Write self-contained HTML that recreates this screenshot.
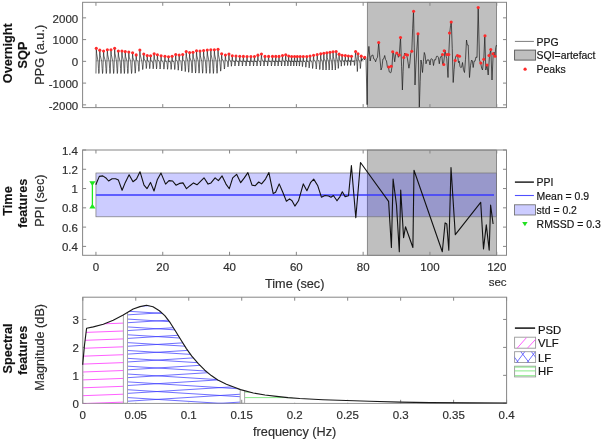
<!DOCTYPE html>
<html><head><meta charset="utf-8"><style>
html,body{margin:0;padding:0;background:#fff;overflow:hidden;}
svg{display:block;font-family:"Liberation Sans", sans-serif;will-change:transform;filter:blur(0.35px);}
</style></head><body>
<svg width="602" height="440" viewBox="0 0 602 440">
<rect width="602" height="440" fill="#fff"/>
<rect x="367.3" y="2.3" width="129.3" height="105.3" fill="#bfbfbf" stroke="#6a6a6a" stroke-width="0.7"/>
<line x1="96" y1="60.9" x2="364" y2="60.9" stroke="#9a9a9a" stroke-width="0.6"/>
<clipPath id="cTop"><rect x="82.6" y="2.3" width="423.9" height="105.3"/></clipPath>
<path d="M95.95 73.5 L96.3 48.36 L96.65 53.36 L98.06 61.5 L98.48 68.5 L98.83 73.5 L99.11 72 L99.81 50.15 L100.19 55.15 L101.69 61.5 L102.15 68.5 L102.52 73.5 L102.82 72 L103.58 50.94 L103.95 55.94 L105.46 61.5 L105.91 68.5 L106.28 73.5 L106.58 72 L107.34 49.82 L107.7 54.82 L109.16 61.5 L109.6 68.5 L109.97 73.5 L110.26 72 L110.99 49.8 L111.35 54.8 L112.82 61.5 L113.26 68.5 L113.62 73.5 L113.91 72 L114.65 48.3 L115.01 53.3 L116.49 61.5 L116.93 68.5 L117.3 73.5 L117.59 72 L118.33 51 L118.69 56 L120.14 61.5 L120.58 68.5 L120.94 73.5 L121.23 72 L121.96 51.01 L122.29 56.01 L123.61 61.5 L124 68.5 L124.33 73.5 L124.6 72 L125.25 51.59 L125.61 56.59 L127.03 61.5 L127.46 68.5 L127.81 73.5 L128.09 72 L128.8 52.07 L129.18 57.07 L130.7 61.5 L131.16 68.5 L131.54 73.5 L131.84 72 L132.6 52.8 L132.96 57.8 L134.4 61.5 L134.83 68.2 L135.19 73.2 L135.48 71.7 L136.2 54.92 L136.57 59.92 L138.03 61.5 L138.47 66.4 L138.84 71.4 L139.13 69.9 L139.87 50 L140.26 55 L141.82 61.5 L142.29 64.57 L142.68 69.57 L143 68.07 L143.78 53.94 L144.13 58.94 L145.52 61.5 L145.94 63.56 L146.29 68.56 L146.57 67.06 L147.26 55.62 L147.6 60.62 L148.94 61.5 L149.34 63.68 L149.68 68.68 L149.94 67.18 L150.61 55.8 L150.97 60.8 L152.39 61.5 L152.81 63.79 L153.17 68.79 L153.45 67.29 L154.16 53.84 L154.48 58.84 L155.79 61.5 L156.19 63.91 L156.51 68.91 L156.78 67.41 L157.43 54.79 L157.8 59.79 L159.26 61.5 L159.7 64.01 L160.07 69.01 L160.36 67.51 L161.09 55.7 L161.48 60.7 L163.02 61.5 L163.49 64.14 L163.88 69.14 L164.19 67.64 L164.96 56.28 L165.31 61.28 L166.73 61.5 L167.16 64.27 L167.51 69.27 L167.8 67.77 L168.51 56.69 L168.87 61.69 L170.31 61.5 L170.74 64.38 L171.1 69.38 L171.39 67.88 L172.1 56.32 L172.47 61.32 L173.91 61.5 L174.34 64.52 L174.7 69.52 L174.99 68.02 L175.71 54.55 L176.06 59.55 L177.44 61.5 L177.86 65.22 L178.21 70.22 L178.48 68.72 L179.18 54.99 L179.53 59.99 L180.93 61.5 L181.36 65.9 L181.71 70.9 L181.99 69.4 L182.69 54.47 L183.04 59.47 L184.46 61.5 L184.88 66.58 L185.24 71.58 L185.52 70.08 L186.23 51.61 L186.56 56.61 L187.9 61.5 L188.3 67.27 L188.64 72.27 L188.91 70.77 L189.58 52.59 L189.92 57.59 L191.29 61.5 L191.7 67.92 L192.04 72.92 L192.32 71.42 L193 52.2 L193.35 57.2 L194.76 61.5 L195.19 68.06 L195.54 73.06 L195.82 71.56 L196.52 50.72 L196.87 55.72 L198.26 61.5 L198.68 68.14 L199.03 73.14 L199.31 71.64 L200 50.93 L200.36 55.93 L201.79 61.5 L202.22 68.21 L202.58 73.21 L202.86 71.71 L203.58 50.56 L203.95 55.56 L205.43 61.5 L205.87 68.28 L206.24 73.28 L206.54 71.78 L207.28 50.02 L207.63 55.02 L209.05 61.5 L209.47 68.36 L209.82 73.36 L210.11 71.86 L210.82 49.81 L211.17 54.81 L212.58 61.5 L213.01 68.43 L213.36 73.43 L213.64 71.93 L214.35 49.8 L214.72 54.8 L216.19 61.5 L216.63 68.3 L217 73.3 L217.29 71.8 L218.03 49.33 L218.39 54.33 L219.84 61.5 L220.28 66.15 L220.64 71.15 L220.93 69.65 L221.66 53.71 L222.03 58.71 L223.54 61.5 L223.99 64.03 L224.36 69.03 L224.66 67.53 L225.41 55.06 L225.77 60.06 L227.18 61.5 L227.61 61.84 L227.96 66.84 L228.24 65.34 L228.95 54.08 L229.29 59.08 L230.63 61.5 L231.03 61.25 L231.37 66.25 L231.63 64.75 L232.3 55.72 L232.67 60.72 L234.14 61.5 L234.58 61 L234.94 66 L235.24 64.5 L235.97 55.94 L236.35 60.94 L237.88 61.5 L238.33 61 L238.72 66 L239.02 64.5 L239.78 56.18 L240.14 61.18 L241.59 61.5 L242.02 61 L242.38 66 L242.67 64.5 L243.39 56.4 L243.76 61.4 L245.23 61.5 L245.67 61 L246.03 66 L246.33 64.5 L247.06 56.5 L247.44 61.5 L248.98 61.5 L249.45 61 L249.83 66 L250.14 64.5 L250.91 56.5 L251.27 61.5 L252.7 61.5 L253.13 61 L253.48 66 L253.77 64.5 L254.48 56.5 L254.83 61.5 L256.2 61.5 L256.62 61 L256.96 66 L257.24 64.5 L257.92 55.14 L258.28 60.14 L259.69 61.5 L260.12 61 L260.47 66 L260.76 64.5 L261.46 54.01 L261.81 59.01 L263.22 61.5 L263.64 61 L263.99 66 L264.27 64.5 L264.97 56.38 L265.33 61.38 L266.79 61.5 L267.23 61 L267.59 66 L267.88 64.5 L268.61 56.4 L269 61.4 L270.55 61.5 L271.02 61 L271.4 66 L271.71 64.5 L272.49 56.4 L272.82 61.4 L274.13 61.5 L274.52 61 L274.85 66 L275.12 64.5 L275.77 56.4 L276.1 61.4 L277.39 61.5 L277.77 61 L278.09 66 L278.35 64.5 L279 56.4 L279.35 61.4 L280.74 61.5 L281.16 61 L281.51 66 L281.79 64.5 L282.48 55.46 L282.81 60.46 L284.1 61.5 L284.49 61 L284.81 66 L285.07 64.5 L285.72 54.79 L286.01 59.79 L287.2 61.5 L287.55 61 L287.85 66 L288.08 64.5 L288.68 55.97 L288.97 60.97 L290.16 61.5 L290.51 61 L290.81 66 L291.04 64.5 L291.63 56.5 L291.93 61.5 L293.1 61.5 L293.45 61 L293.74 66 L293.97 64.5 L294.56 56.5 L294.84 61.5 L295.94 61.5 L296.27 61 L296.54 66 L296.76 64.5 L297.31 56.5 L297.6 61.5 L298.74 61.5 L299.08 61.06 L299.37 66.06 L299.6 64.56 L300.17 56.5 L300.48 61.5 L301.73 61.5 L302.1 61.61 L302.42 66.61 L302.66 65.11 L303.29 56.5 L303.64 61.5 L305.04 61.5 L305.46 62.21 L305.81 67.21 L306.09 65.71 L306.79 56.5 L307.12 61.5 L308.43 61.5 L308.82 62.88 L309.15 67.88 L309.41 66.38 L310.06 55.93 L310.41 60.93 L311.82 61.5 L312.24 63.51 L312.59 68.51 L312.87 67.01 L313.57 55.27 L313.94 60.27 L315.4 61.5 L315.84 64.04 L316.21 69.04 L316.5 67.54 L317.23 54.55 L317.58 59.55 L318.97 61.5 L319.38 64.59 L319.73 69.59 L320.01 68.09 L320.7 53.86 L321.01 58.86 L322.26 61.5 L322.63 65 L322.95 70 L323.2 68.5 L323.82 53.24 L324.13 58.24 L325.36 61.5 L325.73 65 L326.04 70 L326.28 68.5 L326.9 52.71 L327.21 57.71 L328.44 61.5 L328.82 65 L329.12 70 L329.37 68.5 L329.99 52.23 L330.3 57.23 L331.52 61.5 L331.89 65 L332.19 70 L332.44 68.5 L333.05 51.76 L333.36 56.76 L334.59 61.5 L334.96 65 L335.27 70 L335.52 68.5 L336.14 51.43 L336.43 56.43 L337.62 61.5 L337.97 63.4 L338.27 68.4 L338.51 66.9 L339.1 54.17 L339.4 59.17 L340.61 61.5 L340.97 61.18 L341.27 66.18 L341.51 64.68 L342.12 55.24 L342.44 60.24 L343.72 61.5 L344.11 60.5 L344.43 65.5 L344.69 64 L345.33 55.62 L345.64 60.62 L346.86 61.5 L347.23 60.5 L347.54 65.5 L347.78 64 L348.39 55.97 L348.7 60.97 L349.94 61.5 L350.31 60.5 L350.62 65.5 L350.86 64 L351.48 56.32 L351.89 61.32 L353.53 61.5 L354.03 60.5 L354.44 65.5 L354.76 64 L355.58 51.49 L355.83 56.49 L356.79 61.5 L357.08 66.53 L357.32 71.53 L357.52 70.03 L358 53.81 L358.32 58.81 L359.61 61.5 L360 63.5 L360.32 68.5 L360.58 67 L361.22 56.16 L361.64 61.16" fill="none" stroke="#1a1a1a" stroke-width="0.65" stroke-linejoin="round" clip-path="url(#cTop)"/>
<path d="M361.64 61.16 L362 59 L362.9 59.52 L363.8 57.3 L364.53 59.97 L365.27 56.75 L366 59 L367.1 104.7 L367.8 57.3 L368.9 46.4 L370.2 61 L371.1 56 L372 55.5 L372.9 54.95 L373.8 59 L374.7 59.44 L375.6 61.8 L376.55 58.72 L377.5 57.3 L378.7 42.7 L379.8 57.3 L381 70 L381.95 67.31 L382.9 59 L383.8 58.67 L384.7 55.5 L385.6 59.61 L386.5 61 L387.45 67.34 L388.4 67.3 L389.3 71.93 L390.2 72.7 L391.1 72.36 L392 66.4 L392.9 51.8 L393.8 54.86 L394.7 61.8 L395.6 54.92 L396.5 52.7 L397.45 53.84 L398.4 57.3 L399.3 54.5 L400.5 37.3 L401.6 66.4 L402.4 90 L403.1 71.33 L403.8 57.3 L404.7 53.02 L405.6 54.5 L406.55 54.69 L407.5 59 L408.9 68.2 L409.8 63.48 L410.7 53.6 L411.8 51.2 L412.65 28.79 L413.5 11.2 L414.25 47.15 L415 85 L415.9 64.88 L416.8 50 L418 33.8 L419.3 108 L420.15 81.78 L421 60 L421.75 64.73 L422.5 72.5 L423.4 61.63 L424.3 52.5 L425.15 55.27 L426 63.8 L427 59.97 L428 60 L429 59.97 L430 65 L430.9 58.99 L431.8 58.8 L432.65 59.64 L433.5 65.5 L434.5 59.74 L435.5 60 L436.5 56.35 L437.5 56.2 L438.4 57.28 L439.3 63.8 L440.15 58.13 L441 56.2 L441.83 55.69 L442.67 64.18 L443.5 63.8 L444.25 57.93 L445 50 L445.9 55.53 L446.8 58.8 L448 77.5 L448.8 53.8 L449.8 32.5 L450.55 25.53 L451.3 21.2 L452.25 48.73 L453.2 82.5 L454.1 69.4 L455 60 L456 55.7 L457 56 L457.76 56.78 L458.52 62.62 L459.28 61.17 L460.04 66.84 L460.8 67.5 L461.65 67.2 L462.5 62.5 L463.5 69.7 L464.5 72.5 L465.5 59.22 L466.5 40 L467.35 44.94 L468.2 45 L469.5 77.5 L470.5 65.72 L471.5 60 L472.35 60.89 L473.2 67.5 L474.1 61.17 L475 61.2 L476 56.94 L477 57.5 L478.2 7.5 L479.5 60 L480.8 63.8 L481.65 68.09 L482.5 70 L483.8 58.8 L484.8 35.8 L485.8 70 L487 65 L488.2 75 L489.5 55.5 L490.8 49.5 L492 80 L493.2 53.8 L494.1 52.13 L495 56.2 L495.75 47.48 L496.5 45" fill="none" stroke="#1a1a1a" stroke-width="0.7" stroke-linejoin="round" clip-path="url(#cTop)"/>
<g fill="#ff2a2a"><circle cx="96.3" cy="48.36" r="1.55"/><circle cx="99.81" cy="50.15" r="1.55"/><circle cx="103.58" cy="50.94" r="1.55"/><circle cx="107.34" cy="49.82" r="1.55"/><circle cx="110.99" cy="49.8" r="1.55"/><circle cx="114.65" cy="48.3" r="1.55"/><circle cx="118.33" cy="51" r="1.55"/><circle cx="121.96" cy="51.01" r="1.55"/><circle cx="125.25" cy="51.59" r="1.55"/><circle cx="128.8" cy="52.07" r="1.55"/><circle cx="132.6" cy="52.8" r="1.55"/><circle cx="136.2" cy="54.92" r="1.55"/><circle cx="139.87" cy="50" r="1.55"/><circle cx="143.78" cy="53.94" r="1.55"/><circle cx="147.26" cy="55.62" r="1.55"/><circle cx="150.61" cy="55.8" r="1.55"/><circle cx="154.16" cy="53.84" r="1.55"/><circle cx="157.43" cy="54.79" r="1.55"/><circle cx="161.09" cy="55.7" r="1.55"/><circle cx="164.96" cy="56.28" r="1.55"/><circle cx="168.51" cy="56.69" r="1.55"/><circle cx="172.1" cy="56.32" r="1.55"/><circle cx="175.71" cy="54.55" r="1.55"/><circle cx="179.18" cy="54.99" r="1.55"/><circle cx="182.69" cy="54.47" r="1.55"/><circle cx="186.23" cy="51.61" r="1.55"/><circle cx="189.58" cy="52.59" r="1.55"/><circle cx="193" cy="52.2" r="1.55"/><circle cx="196.52" cy="50.72" r="1.55"/><circle cx="200" cy="50.93" r="1.55"/><circle cx="203.58" cy="50.56" r="1.55"/><circle cx="207.28" cy="50.02" r="1.55"/><circle cx="210.82" cy="49.81" r="1.55"/><circle cx="214.35" cy="49.8" r="1.55"/><circle cx="218.03" cy="49.33" r="1.55"/><circle cx="221.66" cy="53.71" r="1.55"/><circle cx="225.41" cy="55.06" r="1.55"/><circle cx="228.95" cy="54.08" r="1.55"/><circle cx="232.3" cy="55.72" r="1.55"/><circle cx="235.97" cy="55.94" r="1.55"/><circle cx="239.78" cy="56.18" r="1.55"/><circle cx="243.39" cy="56.4" r="1.55"/><circle cx="247.06" cy="56.5" r="1.55"/><circle cx="250.91" cy="56.5" r="1.55"/><circle cx="254.48" cy="56.5" r="1.55"/><circle cx="257.92" cy="55.14" r="1.55"/><circle cx="261.46" cy="54.01" r="1.55"/><circle cx="264.97" cy="56.38" r="1.55"/><circle cx="268.61" cy="56.4" r="1.55"/><circle cx="272.49" cy="56.4" r="1.55"/><circle cx="275.77" cy="56.4" r="1.55"/><circle cx="279" cy="56.4" r="1.55"/><circle cx="282.48" cy="55.46" r="1.55"/><circle cx="285.72" cy="54.79" r="1.55"/><circle cx="288.68" cy="55.97" r="1.55"/><circle cx="291.63" cy="56.5" r="1.55"/><circle cx="294.56" cy="56.5" r="1.55"/><circle cx="297.31" cy="56.5" r="1.55"/><circle cx="300.17" cy="56.5" r="1.55"/><circle cx="303.29" cy="56.5" r="1.55"/><circle cx="306.79" cy="56.5" r="1.55"/><circle cx="310.06" cy="55.93" r="1.55"/><circle cx="313.57" cy="55.27" r="1.55"/><circle cx="317.23" cy="54.55" r="1.55"/><circle cx="320.7" cy="53.86" r="1.55"/><circle cx="323.82" cy="53.24" r="1.55"/><circle cx="326.9" cy="52.71" r="1.55"/><circle cx="329.99" cy="52.23" r="1.55"/><circle cx="333.05" cy="51.76" r="1.55"/><circle cx="336.14" cy="51.43" r="1.55"/><circle cx="339.1" cy="54.17" r="1.55"/><circle cx="342.12" cy="55.24" r="1.55"/><circle cx="345.33" cy="55.62" r="1.55"/><circle cx="348.39" cy="55.97" r="1.55"/><circle cx="351.48" cy="56.32" r="1.55"/><circle cx="355.58" cy="51.49" r="1.55"/><circle cx="358" cy="53.81" r="1.55"/><circle cx="361.22" cy="56.16" r="1.55"/><circle cx="364.7" cy="57.3" r="1.55"/><circle cx="378.7" cy="42.5" r="1.55"/><circle cx="388.8" cy="67" r="1.55"/><circle cx="391.2" cy="66.2" r="1.55"/><circle cx="392.7" cy="51.8" r="1.55"/><circle cx="396.8" cy="53" r="1.55"/><circle cx="399.3" cy="55" r="1.55"/><circle cx="400.5" cy="37.5" r="1.55"/><circle cx="403.8" cy="57.5" r="1.55"/><circle cx="405.8" cy="54.5" r="1.55"/><circle cx="407.5" cy="55" r="1.55"/><circle cx="411.8" cy="51.2" r="1.55"/><circle cx="413.6" cy="11.2" r="1.55"/><circle cx="418" cy="33.8" r="1.55"/><circle cx="442.5" cy="54.5" r="1.55"/><circle cx="444.2" cy="50.8" r="1.55"/><circle cx="443.8" cy="64.5" r="1.55"/><circle cx="447" cy="54.5" r="1.55"/><circle cx="448.8" cy="54.5" r="1.55"/><circle cx="449.5" cy="33" r="1.55"/><circle cx="451.2" cy="22" r="1.55"/><circle cx="455.2" cy="60.5" r="1.55"/><circle cx="457.5" cy="55.5" r="1.55"/><circle cx="459.5" cy="56.2" r="1.55"/><circle cx="478.2" cy="7.5" r="1.55"/><circle cx="480.8" cy="63" r="1.55"/><circle cx="483.8" cy="59.2" r="1.55"/><circle cx="485" cy="35.8" r="1.55"/><circle cx="487" cy="65" r="1.55"/><circle cx="489" cy="55.5" r="1.55"/><circle cx="490.8" cy="49.5" r="1.55"/><circle cx="493" cy="53.8" r="1.55"/><circle cx="495" cy="56.2" r="1.55"/></g>
<rect x="82.6" y="2.3" width="423.9" height="105.3" fill="none" stroke="#868686" stroke-width="1"/>
<path d="M95.95 107.6V104.1M95.95 2.3V5.8M162.75 107.6V104.1M162.75 2.3V5.8M229.55 107.6V104.1M229.55 2.3V5.8M296.35 107.6V104.1M296.35 2.3V5.8M363.15 107.6V104.1M363.15 2.3V5.8M429.95 107.6V104.1M429.95 2.3V5.8M496.75 107.6V104.1M496.75 2.3V5.8" stroke="#868686" stroke-width="1" fill="none"/>
<path d="M82.6 104.85H86.1M506.5 104.85H503M82.6 83.1H86.1M506.5 83.1H503M82.6 61.35H86.1M506.5 61.35H503M82.6 39.6H86.1M506.5 39.6H503M82.6 17.85H86.1M506.5 17.85H503" stroke="#868686" stroke-width="1" fill="none"/>
<text x="78.2" y="109.6" font-size="11.5" text-anchor="end" font-weight="normal" fill="#2e2e2e" stroke="#2e2e2e" stroke-width="0.18">-2000</text>
<text x="78.2" y="87.85" font-size="11.5" text-anchor="end" font-weight="normal" fill="#2e2e2e" stroke="#2e2e2e" stroke-width="0.18">-1000</text>
<text x="78.2" y="66.1" font-size="11.5" text-anchor="end" font-weight="normal" fill="#2e2e2e" stroke="#2e2e2e" stroke-width="0.18">0</text>
<text x="78.2" y="44.35" font-size="11.5" text-anchor="end" font-weight="normal" fill="#2e2e2e" stroke="#2e2e2e" stroke-width="0.18">1000</text>
<text x="78.2" y="22.6" font-size="11.5" text-anchor="end" font-weight="normal" fill="#2e2e2e" stroke="#2e2e2e" stroke-width="0.18">2000</text>
<rect x="367.3" y="150" width="129.3" height="105.3" fill="#bfbfbf" stroke="#6a6a6a" stroke-width="0.7"/>
<rect x="95.95" y="173.0" width="400.65" height="43.8" fill="#0000ff" fill-opacity="0.2" stroke="#777" stroke-width="0.7"/>
<line x1="95.95" y1="195" x2="494" y2="195" stroke="#3a3aff" stroke-width="1.4"/>
<path d="M95.8 184.8 L99.3 176.4 L102.8 175.9 L106.3 178.3 L108.6 181 L112.1 178.7 L115.6 178.7 L118.4 180.1 L122.1 190.3 L125.3 182.4 L129.1 174.8 L133 181.7 L136.5 179 L140 171.7 L144 185.2 L147 188.7 L150.5 182.4 L154 191 L157.4 179.4 L161 173.1 L165.6 184.1 L169 180.6 L172.6 181 L176 185.2 L179.5 183.4 L183 182.9 L186.5 188.7 L190 185.7 L193.5 182.9 L197 184.8 L204 177.8 L208.1 184.1 L211 182.9 L215.1 177.8 L218.4 180.6 L222.1 175.9 L226 184.1 L229.3 188.7 L232.7 177.9 L236.6 174.3 L240.7 182.7 L244.3 177.9 L247.9 172.6 L252 185.1 L255.1 185.8 L258.7 182 L261.6 183.9 L265.5 179.1 L268.9 172.6 L273.2 193.6 L275.6 192.3 L279.2 183.9 L282.8 192.3 L286.4 201.3 L289.6 198.9 L292 200.8 L294.9 206.1 L298.5 200.8 L303.3 183.9 L306.9 190.7 L310.5 182.7 L313.7 179.1 L317.8 185.8 L321.4 197.2 L325 195.5 L328.6 196 L331 197.2 L333.4 195.5 L337 200.8 L340 196.6 L342.3 191.8 L345.1 196.6 L348.5 195.8 L351.4 165.6 L355.8 217.8 L360.5 162.5 L388.6 201.4 L391.4 247.5 L393.1 179.1 L396.5 205.1 L399.3 251.7 L400.7 190.1 L403.6 237.6 L405.5 226.8 L412.9 247.5 L414 170.3 L442.3 251.7 L445.1 222.9 L446.8 224 L448.8 250.3 L451 167.5 L455.3 234.7 L480.7 202.3 L483.5 248.9 L486.3 224.9 L489.2 250.3 L490.6 205.1 L493.1 224" fill="none" stroke="#111" stroke-width="1.1" stroke-linejoin="round"/>
<line x1="92.4" y1="183" x2="92.4" y2="207" stroke="#1ee81e" stroke-width="1.3"/>
<path d="M89.3 181.2H95.5L92.4 186Z M89.3 208.6H95.5L92.4 203.8Z" fill="#1ee81e"/>
<rect x="82.6" y="150" width="423.9" height="105.3" fill="none" stroke="#868686" stroke-width="1"/>
<path d="M95.95 255.3V251.8M95.95 150V153.5M162.75 255.3V251.8M162.75 150V153.5M229.55 255.3V251.8M229.55 150V153.5M296.35 255.3V251.8M296.35 150V153.5M363.15 255.3V251.8M363.15 150V153.5M429.95 255.3V251.8M429.95 150V153.5M496.75 255.3V251.8M496.75 150V153.5" stroke="#868686" stroke-width="1" fill="none"/>
<path d="M82.6 246.4H86.1M506.5 246.4H503M82.6 227.12H86.1M506.5 227.12H503M82.6 207.84H86.1M506.5 207.84H503M82.6 188.56H86.1M506.5 188.56H503M82.6 169.28H86.1M506.5 169.28H503M82.6 150H86.1M506.5 150H503" stroke="#868686" stroke-width="1" fill="none"/>
<text x="77.9" y="154.6" font-size="11.5" text-anchor="end" font-weight="normal" fill="#2e2e2e" stroke="#2e2e2e" stroke-width="0.18">1.4</text>
<text x="77.9" y="173.88" font-size="11.5" text-anchor="end" font-weight="normal" fill="#2e2e2e" stroke="#2e2e2e" stroke-width="0.18">1.2</text>
<text x="77.9" y="193.16" font-size="11.5" text-anchor="end" font-weight="normal" fill="#2e2e2e" stroke="#2e2e2e" stroke-width="0.18">1</text>
<text x="77.9" y="212.44" font-size="11.5" text-anchor="end" font-weight="normal" fill="#2e2e2e" stroke="#2e2e2e" stroke-width="0.18">0.8</text>
<text x="77.9" y="231.72" font-size="11.5" text-anchor="end" font-weight="normal" fill="#2e2e2e" stroke="#2e2e2e" stroke-width="0.18">0.6</text>
<text x="77.9" y="251" font-size="11.5" text-anchor="end" font-weight="normal" fill="#2e2e2e" stroke="#2e2e2e" stroke-width="0.18">0.4</text>
<text x="95.95" y="271.3" font-size="11.5" text-anchor="middle" font-weight="normal" fill="#2e2e2e" stroke="#2e2e2e" stroke-width="0.18">0</text>
<text x="162.75" y="271.3" font-size="11.5" text-anchor="middle" font-weight="normal" fill="#2e2e2e" stroke="#2e2e2e" stroke-width="0.18">20</text>
<text x="229.55" y="271.3" font-size="11.5" text-anchor="middle" font-weight="normal" fill="#2e2e2e" stroke="#2e2e2e" stroke-width="0.18">40</text>
<text x="296.35" y="271.3" font-size="11.5" text-anchor="middle" font-weight="normal" fill="#2e2e2e" stroke="#2e2e2e" stroke-width="0.18">60</text>
<text x="363.15" y="271.3" font-size="11.5" text-anchor="middle" font-weight="normal" fill="#2e2e2e" stroke="#2e2e2e" stroke-width="0.18">80</text>
<text x="429.95" y="271.3" font-size="11.5" text-anchor="middle" font-weight="normal" fill="#2e2e2e" stroke="#2e2e2e" stroke-width="0.18">100</text>
<text x="496.75" y="271.3" font-size="11.5" text-anchor="middle" font-weight="normal" fill="#2e2e2e" stroke="#2e2e2e" stroke-width="0.18">120</text>
<text x="506.6" y="286.3" font-size="11.5" text-anchor="end" font-weight="normal" fill="#2e2e2e" stroke="#2e2e2e" stroke-width="0.18">sec</text>
<text x="294.7" y="287.9" font-size="12.7" text-anchor="middle" font-weight="normal" fill="#2e2e2e" stroke="#2e2e2e" stroke-width="0.18">Time (sec)</text>
<clipPath id="cV"><path d="M82.8 403.3 L82.8 363.7 L84.5 345 L86.6 328.2 L93.3 326.9 L103.3 324.2 L113.2 320.2 L123.2 314.9 L123.4 314.78 L123.4 403.3Z"/></clipPath>
<clipPath id="cL"><path d="M127.5 403.3 L127.5 312.36 L133.2 309 L140 306.6 L146.5 305.3 L153 306.8 L159.4 310.8 L164.8 315.6 L170.2 322.7 L175.6 331.3 L181 340 L186.4 348.6 L191.8 356.2 L198.3 363.7 L204.8 370.2 L211.3 375.6 L217.8 379.9 L226.4 384.2 L235 387.5 L240.2 389.49 L240.2 403.3Z"/></clipPath>
<clipPath id="cH"><path d="M244.6 403.3 L244.6 390.69 L253.3 393 L265 395 L276.5 396.4 L288 397.6 L299.8 398.5 L323 399.7 L346.3 400.5 L369.5 401.3 L400 402.1 L430 402.6 L470 402.9 L506.6 403 L506.6 403.3Z"/></clipPath>
<rect x="82.8" y="297.2" width="423.8" height="106.1" fill="none" stroke="#868686" stroke-width="1"/>
<path d="M82.8 403.3V399.8M82.8 297.2V300.7M135.78 403.3V399.8M135.78 297.2V300.7M188.75 403.3V399.8M188.75 297.2V300.7M241.72 403.3V399.8M241.72 297.2V300.7M294.7 403.3V399.8M294.7 297.2V300.7M347.68 403.3V399.8M347.68 297.2V300.7M400.65 403.3V399.8M400.65 297.2V300.7M453.62 403.3V399.8M453.62 297.2V300.7M506.6 403.3V399.8M506.6 297.2V300.7" stroke="#868686" stroke-width="1" fill="none"/>
<path d="M82.8 403.3H86.3M506.6 403.3H503.1M82.8 375.35H86.3M506.6 375.35H503.1M82.8 347.4H86.3M506.6 347.4H503.1M82.8 319.45H86.3M506.6 319.45H503.1" stroke="#868686" stroke-width="1" fill="none"/>
<path d="M83.35 402.75 L83.35 357.65 L84.5 345 L86.6 328.2 L93.3 326.9 L103.3 324.2 L113.2 320.2 L123.2 314.9 L123.4 314.78 L123.4 402.75Z M127.5 402.75 L127.5 312.36 L133.2 309 L140 306.6 L146.5 305.3 L153 306.8 L159.4 310.8 L164.8 315.6 L170.2 322.7 L175.6 331.3 L181 340 L186.4 348.6 L191.8 356.2 L198.3 363.7 L204.8 370.2 L211.3 375.6 L217.8 379.9 L226.4 384.2 L235 387.5 L240.2 389.49 L240.2 402.75Z M244.6 402.75 L244.6 390.69 L253.3 393 L265 395 L276.5 396.4 L288 397.6 L299.8 398.5 L323 399.7 L346.3 400.5 L369.5 401.3 L400 402.1 L430 402.6 L470 402.9 L506.05 403 L506.05 402.75Z" fill="#fff"/>
<path d="M82.8 419.4L123.4 417.9M82.8 411.5L123.4 410M82.8 403.6L123.4 402.1M82.8 395.7L123.4 394.2M82.8 387.8L123.4 386.3M82.8 379.9L123.4 378.4M82.8 372L123.4 370.5M82.8 364.1L123.4 362.6M82.8 356.2L123.4 354.7M82.8 348.3L123.4 346.8M82.8 340.4L123.4 338.9M82.8 332.5L123.4 331M82.8 324.6L123.4 323.1M82.8 316.7L123.4 315.2M82.8 308.8L123.4 307.3M82.8 300.9L123.4 299.4M82.8 293L123.4 291.5M82.8 285.1L123.4 283.6" stroke="#ff4dff" stroke-width="0.9" fill="none" clip-path="url(#cV)"/>
<path d="M127.5 432.63L240.2 425.64M127.5 428.97L240.2 435.96M127.5 424.78L240.2 417.79M127.5 421.12L240.2 428.11M127.5 416.93L240.2 409.94M127.5 413.27L240.2 420.26M127.5 409.08L240.2 402.09M127.5 405.42L240.2 412.41M127.5 401.23L240.2 394.24M127.5 397.57L240.2 404.56M127.5 393.38L240.2 386.39M127.5 389.72L240.2 396.71M127.5 385.53L240.2 378.54M127.5 381.87L240.2 388.86M127.5 377.68L240.2 370.69M127.5 374.02L240.2 381.01M127.5 369.83L240.2 362.84M127.5 366.17L240.2 373.16M127.5 361.98L240.2 354.99M127.5 358.32L240.2 365.31M127.5 354.13L240.2 347.14M127.5 350.47L240.2 357.46M127.5 346.28L240.2 339.29M127.5 342.62L240.2 349.61M127.5 338.43L240.2 331.44M127.5 334.77L240.2 341.76M127.5 330.58L240.2 323.59M127.5 326.92L240.2 333.91M127.5 322.73L240.2 315.74M127.5 319.07L240.2 326.06M127.5 314.88L240.2 307.89M127.5 311.22L240.2 318.21M127.5 307.03L240.2 300.04M127.5 303.37L240.2 310.36M127.5 299.18L240.2 292.19M127.5 295.52L240.2 302.51M127.5 291.33L240.2 284.34M127.5 287.67L240.2 294.66M127.5 283.48L240.2 276.49M127.5 279.82L240.2 286.81M127.5 275.63L240.2 268.64M127.5 271.97L240.2 278.96M127.5 267.78L240.2 260.79M127.5 264.12L240.2 271.11M127.5 259.93L240.2 252.94M127.5 256.27L240.2 263.26M127.5 252.08L240.2 245.09M127.5 248.42L240.2 255.41" stroke="#3f3fff" stroke-width="0.75" fill="none" clip-path="url(#cL)"/>
<path d="M244.6 397.6H506.6M244.6 392.1H506.6" stroke="#7ce87c" stroke-width="0.9" fill="none" clip-path="url(#cH)"/>
<path d="M82.8 403.3V363.7M123.4 403.3V314.78" stroke="#9c9c9c" stroke-width="0.9" fill="none"/>
<path d="M127.5 403.3V312.36M240.2 403.3V389.49" stroke="#9c9c9c" stroke-width="0.9" fill="none"/>
<path d="M244.6 403.3V390.69M506.6 403.3V403" stroke="#9c9c9c" stroke-width="0.9" fill="none"/>
<path d="M82.7 364.8 L84.5 345 L86.6 328.2 L93.3 326.9 L103.3 324.2 L113.2 320.2 L123.2 314.9 L133.2 309 L140 306.6 L146.5 305.3 L153 306.8 L159.4 310.8 L164.8 315.6 L170.2 322.7 L175.6 331.3 L181 340 L186.4 348.6 L191.8 356.2 L198.3 363.7 L204.8 370.2 L211.3 375.6 L217.8 379.9 L226.4 384.2 L235 387.5 L240.5 389.6 L253.3 393 L265 395 L276.5 396.4 L288 397.6 L299.8 398.5 L323 399.7 L346.3 400.5 L369.5 401.3 L400 402.1 L430 402.6 L470 402.9 L506.6 403" fill="none" stroke="#1a1a1a" stroke-width="1.15" stroke-linejoin="round"/>
<text x="78.9" y="407.9" font-size="11.5" text-anchor="end" font-weight="normal" fill="#2e2e2e" stroke="#2e2e2e" stroke-width="0.18">0</text>
<text x="78.9" y="379.95" font-size="11.5" text-anchor="end" font-weight="normal" fill="#2e2e2e" stroke="#2e2e2e" stroke-width="0.18">1</text>
<text x="78.9" y="352" font-size="11.5" text-anchor="end" font-weight="normal" fill="#2e2e2e" stroke="#2e2e2e" stroke-width="0.18">2</text>
<text x="78.9" y="324.05" font-size="11.5" text-anchor="end" font-weight="normal" fill="#2e2e2e" stroke="#2e2e2e" stroke-width="0.18">3</text>
<text x="82.8" y="418.8" font-size="11.5" text-anchor="middle" font-weight="normal" fill="#2e2e2e" stroke="#2e2e2e" stroke-width="0.18">0</text>
<text x="135.78" y="418.8" font-size="11.5" text-anchor="middle" font-weight="normal" fill="#2e2e2e" stroke="#2e2e2e" stroke-width="0.18">0.05</text>
<text x="188.75" y="418.8" font-size="11.5" text-anchor="middle" font-weight="normal" fill="#2e2e2e" stroke="#2e2e2e" stroke-width="0.18">0.1</text>
<text x="241.72" y="418.8" font-size="11.5" text-anchor="middle" font-weight="normal" fill="#2e2e2e" stroke="#2e2e2e" stroke-width="0.18">0.15</text>
<text x="294.7" y="418.8" font-size="11.5" text-anchor="middle" font-weight="normal" fill="#2e2e2e" stroke="#2e2e2e" stroke-width="0.18">0.2</text>
<text x="347.68" y="418.8" font-size="11.5" text-anchor="middle" font-weight="normal" fill="#2e2e2e" stroke="#2e2e2e" stroke-width="0.18">0.25</text>
<text x="400.65" y="418.8" font-size="11.5" text-anchor="middle" font-weight="normal" fill="#2e2e2e" stroke="#2e2e2e" stroke-width="0.18">0.3</text>
<text x="453.62" y="418.8" font-size="11.5" text-anchor="middle" font-weight="normal" fill="#2e2e2e" stroke="#2e2e2e" stroke-width="0.18">0.35</text>
<text x="506.6" y="418.8" font-size="11.5" text-anchor="middle" font-weight="normal" fill="#2e2e2e" stroke="#2e2e2e" stroke-width="0.18">0.4</text>
<text x="294.7" y="435.9" font-size="12.7" text-anchor="middle" font-weight="normal" fill="#2e2e2e" stroke="#2e2e2e" stroke-width="0.18">frequency (Hz)</text>
<text transform="translate(11.8 53.2) rotate(-90)" font-size="12.7" font-weight="bold" fill="#111" stroke="#111" stroke-width="0.15" text-anchor="middle">Overnight</text>
<text transform="translate(26.6 55) rotate(-90)" font-size="12.7" font-weight="bold" fill="#111" stroke="#111" stroke-width="0.15" text-anchor="middle">SQP</text>
<text transform="translate(43.6 54.8) rotate(-90)" font-size="12.7" fill="#2e2e2e" stroke="#2e2e2e" stroke-width="0.18" text-anchor="middle">PPG (a.u.)</text>
<text transform="translate(11.8 201) rotate(-90)" font-size="12.7" font-weight="bold" fill="#111" stroke="#111" stroke-width="0.15" text-anchor="middle">Time</text>
<text transform="translate(26.6 203.4) rotate(-90)" font-size="12.7" font-weight="bold" fill="#111" stroke="#111" stroke-width="0.15" text-anchor="middle">features</text>
<text transform="translate(43.6 200.6) rotate(-90)" font-size="12.7" fill="#2e2e2e" stroke="#2e2e2e" stroke-width="0.18" text-anchor="middle">PPI (sec)</text>
<text transform="translate(11.8 348.4) rotate(-90)" font-size="12.7" font-weight="bold" fill="#111" stroke="#111" stroke-width="0.15" text-anchor="middle">Spectral</text>
<text transform="translate(26.6 350.3) rotate(-90)" font-size="12.7" font-weight="bold" fill="#111" stroke="#111" stroke-width="0.15" text-anchor="middle">features</text>
<text transform="translate(43.6 347.3) rotate(-90)" font-size="12.7" fill="#2e2e2e" stroke="#2e2e2e" stroke-width="0.18" text-anchor="middle">Magnitude (dB)</text>
<line x1="514.9" y1="41.4" x2="533.9" y2="41.4" stroke="#444" stroke-width="0.7"/>
<text x="536.6" y="46" font-size="10.45" text-anchor="start" font-weight="normal" fill="#151515" stroke="#151515" stroke-width="0.18">PPG</text>
<rect x="514.6" y="50.1" width="21" height="10" fill="#bfbfbf" stroke="#555" stroke-width="0.9"/>
<text x="536.6" y="58.9" font-size="10.45" text-anchor="start" font-weight="normal" fill="#151515" stroke="#151515" stroke-width="0.18">SQI=artefact</text>
<circle cx="525.1" cy="69.2" r="1.6" fill="#ff2a2a"/>
<text x="536.6" y="72.9" font-size="10.45" text-anchor="start" font-weight="normal" fill="#151515" stroke="#151515" stroke-width="0.18">Peaks</text>
<line x1="514.9" y1="182.1" x2="533.9" y2="182.1" stroke="#000" stroke-width="1.3"/>
<text x="536.6" y="185.9" font-size="10.45" text-anchor="start" font-weight="normal" fill="#151515" stroke="#151515" stroke-width="0.18">PPI</text>
<line x1="514.9" y1="195.5" x2="533.9" y2="195.5" stroke="#5050ff" stroke-width="1.1"/>
<text x="536.6" y="200" font-size="10.45" text-anchor="start" font-weight="normal" fill="#151515" stroke="#151515" stroke-width="0.18">Mean = 0.9</text>
<rect x="514.6" y="204.8" width="21" height="10.2" fill="#ccccff" stroke="#666" stroke-width="0.8"/>
<text x="536.6" y="213.8" font-size="10.45" text-anchor="start" font-weight="normal" fill="#151515" stroke="#151515" stroke-width="0.18">std = 0.2</text>
<path d="M522.2 221.9H527.6L524.9 226.3Z" fill="#22e022"/>
<text x="536.6" y="227.8" font-size="10.45" text-anchor="start" font-weight="normal" fill="#151515" stroke="#151515" stroke-width="0.18">RMSSD = 0.3</text>
<line x1="514.9" y1="328.1" x2="535.1" y2="328.1" stroke="#111" stroke-width="1.5"/>
<text x="538" y="333.7" font-size="11.3" text-anchor="start" font-weight="normal" fill="#111" stroke="#111" stroke-width="0.18">PSD</text>
<rect x="514.6" y="337.2" width="21" height="11" fill="#fff" stroke="#999" stroke-width="0.9"/>
<path d="M517.3 348L526.5 337.6M527.6 348L535.6 339.3" stroke="#ff4dff" stroke-width="0.9"/>
<text x="538" y="347.3" font-size="11.3" text-anchor="start" font-weight="normal" fill="#111" stroke="#111" stroke-width="0.18">VLF</text>
<rect x="514.6" y="351.7" width="21" height="10.8" fill="#fff" stroke="#999" stroke-width="0.9"/>
<clipPath id="cLF"><rect x="514.6" y="351.7" width="21" height="10.8"/></clipPath>
<path d="M492.3 366.58L508.3 345.46M500.3 366.58L484.3 345.46M502.9 366.58L518.9 345.46M510.9 366.58L494.9 345.46M513.5 366.58L529.5 345.46M521.5 366.58L505.5 345.46M524.1 366.58L540.1 345.46M532.1 366.58L516.1 345.46M534.7 366.58L550.7 345.46M542.7 366.58L526.7 345.46M545.3 366.58L561.3 345.46M553.3 366.58L537.3 345.46" stroke="#4a4aff" stroke-width="0.8" fill="none" clip-path="url(#cLF)"/>
<text x="538" y="362" font-size="11.3" text-anchor="start" font-weight="normal" fill="#111" stroke="#111" stroke-width="0.18">LF</text>
<rect x="514.6" y="366.2" width="21" height="10.7" fill="#fff" stroke="#999" stroke-width="0.9"/>
<path d="M514.6 367.1H535.6M514.6 370.9H535.6M514.6 375.7H535.6" stroke="#7ce87c" stroke-width="0.9"/>
<text x="538" y="375.4" font-size="11.3" text-anchor="start" font-weight="normal" fill="#111" stroke="#111" stroke-width="0.18">HF</text>
</svg>
</body></html>
